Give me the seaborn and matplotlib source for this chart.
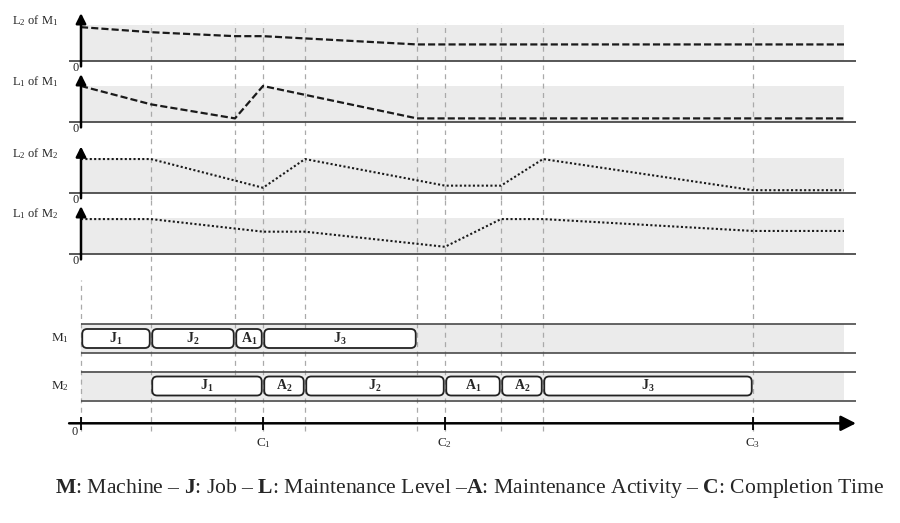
import matplotlib
matplotlib.use("Agg")
import matplotlib.pyplot as plt
from matplotlib.patches import FancyBboxPatch
import seaborn as sns

sns.set_style("white")
plt.rcParams["font.family"] = ["Liberation Serif", "DejaVu Serif"]
plt.rcParams["mathtext.fontset"] = "custom"
plt.rcParams["mathtext.rm"] = "Liberation Serif"
plt.rcParams["mathtext.it"] = "Liberation Serif:italic"
plt.rcParams["mathtext.bf"] = "Liberation Serif:bold"

# ---- data (time in schedule units, level 0..1 = height of grey band) ----
T_END = 109
l2_m1_t = [0, 10, 22, 26, 48, 109]
l2_m1_v = [0.94, 0.80, 0.69, 0.69, 0.46, 0.46]
l1_m1_t = [0, 10, 22, 26, 48, 109]
l1_m1_v = [1.00, 0.49, 0.10, 1.00, 0.10, 0.10]
l2_m2_t = [0, 10, 26, 32, 52, 60, 66, 96, 109]
l2_m2_v = [0.97, 0.97, 0.15, 0.97, 0.21, 0.21, 0.97, 0.08, 0.08]
l1_m2_t = [0, 10, 26, 32, 52, 60, 66, 96, 109]
l1_m2_v = [0.97, 0.97, 0.62, 0.62, 0.20, 0.97, 0.97, 0.64, 0.64]

events = [0, 10, 22, 26, 32, 48, 52, 60, 66, 96]
completions = [26, 52, 96]
completion_labels = [r"C$_\mathregular{1}$", r"C$_\mathregular{2}$", r"C$_\mathregular{3}$"]

m1_tasks = [r"$\mathbf{J_1}$", r"$\mathbf{J_2}$", r"$\mathbf{A_1}$", r"$\mathbf{J_3}$"]
m1_start = [0, 10, 22, 26]
m1_end = [10, 22, 26, 48]
m2_tasks = [r"$\mathbf{J_1}$", r"$\mathbf{A_2}$", r"$\mathbf{J_2}$", r"$\mathbf{A_1}$",
            r"$\mathbf{A_2}$", r"$\mathbf{J_3}$"]
m2_start = [10, 26, 32, 52, 60, 66]
m2_end = [26, 32, 52, 60, 66, 96]

caption = (r"$\mathbf{M}$: Machine – $\mathbf{J}$: Job – $\mathbf{L}$: Maintenance Level –"
           r"$\mathbf{A}$: Maintenance Activity – $\mathbf{C}$: Completion Time")

# ---- layout in pixels ----
W, H = 900, 523
T0_PX, PX_PER_T = 81, 7
X_LEFT_PX, X_RIGHT_PX = 53, 865
XLIM = ((X_LEFT_PX - T0_PX) / PX_PER_T, (X_RIGHT_PX - T0_PX) / PX_PER_T)
AX_START, AX_END = -1.7, 110.7

GREY = "#ebebeb"
EDGE = "#4a4a4a"
VDASH = dict(color="#aaaaaa", lw=0.9, linestyle=(0, (4, 3.5)), zorder=1)

fig = plt.figure(figsize=(W / 100, H / 100), dpi=100)


def px_axes(top, bottom):
    ax = fig.add_axes([X_LEFT_PX / W, 1 - bottom / H,
                       (X_RIGHT_PX - X_LEFT_PX) / W, (bottom - top) / H])
    ax.set_facecolor("none")
    ax.set_xlim(*XLIM)
    ax.axis("off")
    return ax


dashed = (0, (3.2, 1.4))
dotted = (0, (1.0, 1.1))
panels = [
    (r"L$_\mathregular{2}$ of M$_\mathregular{1}$", l2_m1_t, l2_m1_v, dashed, 1.6, 61, 36, 5, 70),
    (r"L$_\mathregular{1}$ of M$_\mathregular{1}$", l1_m1_t, l1_m1_v, dashed, 1.6, 122, 36, 70, 135),
    (r"L$_\mathregular{2}$ of M$_\mathregular{2}$", l2_m2_t, l2_m2_v, dotted, 1.5, 193, 35, 135, 200),
    (r"L$_\mathregular{1}$ of M$_\mathregular{2}$", l1_m2_t, l1_m2_v, dotted, 1.5, 254, 36, 200, 280),
]

for i, (label, t, v, ls, lw, base, unit, top, bottom) in enumerate(panels):
    ax = px_axes(top, bottom)
    ax.set_ylim((base - bottom) / unit, (base - top) / unit)
    ax.fill_between([0, T_END], 0, 1, color=GREY, lw=0, zorder=0)
    ymax = (bottom - 23) / (bottom - top) if i == 0 else 1
    for e in events[1:]:
        ax.axvline(e, 0, ymax, **VDASH)
    ax.hlines(0, AX_START, AX_END, color=EDGE, lw=1.3, zorder=2)
    sns.lineplot(x=t, y=v, ax=ax, color="#1a1a1a", lw=lw, linestyle=ls,
                 estimator=None, sort=False, zorder=3)
    ax.annotate("", xy=(0, 1.33), xytext=(0, -0.15), annotation_clip=False,
                arrowprops=dict(arrowstyle="-|>,head_length=0.6,head_width=0.3",
                                mutation_scale=10, color="black", lw=1.8,
                                shrinkA=0, shrinkB=0), zorder=4)
    ax.text(-9.9, 1.12, label, fontsize=9, ha="left", va="center")
    ax.text(-0.3, -0.2, "0", fontsize=9, ha="right", va="center")

# ---- Gantt chart ----
ROW_PX = 47.5
ROW0_PX = 338.5
G_TOP, G_BOT = 280, 460
gx = px_axes(G_TOP, G_BOT)
gx.set_ylim((G_BOT - ROW0_PX) / ROW_PX, (G_TOP - ROW0_PX) / ROW_PX)
band_h = 14.5 / ROW_PX
box_h = 9.5 / ROW_PX
axis_y = (423.3 - ROW0_PX) / ROW_PX

for e in events:
    gx.axvline(e, (G_BOT - 431) / (G_BOT - G_TOP), 1, **VDASH)

rows = [(r"M$_\mathregular{1}$", m1_tasks, m1_start, m1_end),
        (r"M$_\mathregular{2}$", m2_tasks, m2_start, m2_end)]
for r, (name, tasks, starts, ends) in enumerate(rows):
    gx.fill_between([0, T_END], r - band_h, r + band_h, color=GREY, lw=0, zorder=0)
    gx.hlines([r - band_h, r + band_h], 0, AX_END, color=EDGE, lw=1.2, zorder=2)
    gx.text(-1.7, r, name, fontsize=9.5, ha="right", va="center")
    for lab, s, e in zip(tasks, starts, ends):
        box = FancyBboxPatch((s + 0.18, r - box_h), e - s - 0.36, 2 * box_h,
                             boxstyle="round,pad=0,rounding_size=0.7",
                             mutation_aspect=PX_PER_T / ROW_PX,
                             fc="white", ec="#222222", lw=1.3, zorder=3)
        gx.add_patch(box)
        gx.text((s + e) / 2, r, lab, fontsize=10, ha="center", va="center", zorder=4)

gx.annotate("", xy=(AX_END, axis_y), xytext=(AX_START, axis_y), annotation_clip=False,
            arrowprops=dict(arrowstyle="-|>,head_length=0.65,head_width=0.33",
                            mutation_scale=14, color="black", lw=1.8,
                            shrinkA=0, shrinkB=0), zorder=3)
gx.vlines([0] + completions, axis_y - 0.14, axis_y + 0.14, color="black", lw=1.3, zorder=3)
gx.text(-0.86, (431.7 - ROW0_PX) / ROW_PX, "0", fontsize=9, ha="center", va="center")
for c, lab in zip(completions, completion_labels):
    gx.text(c, (443 - ROW0_PX) / ROW_PX, lab, fontsize=9.5, ha="center", va="center")

fig.text(470 / W, 1 - 488 / H, caption, fontsize=15.6, ha="center", va="center")

fig.savefig("out.png", dpi=100)
